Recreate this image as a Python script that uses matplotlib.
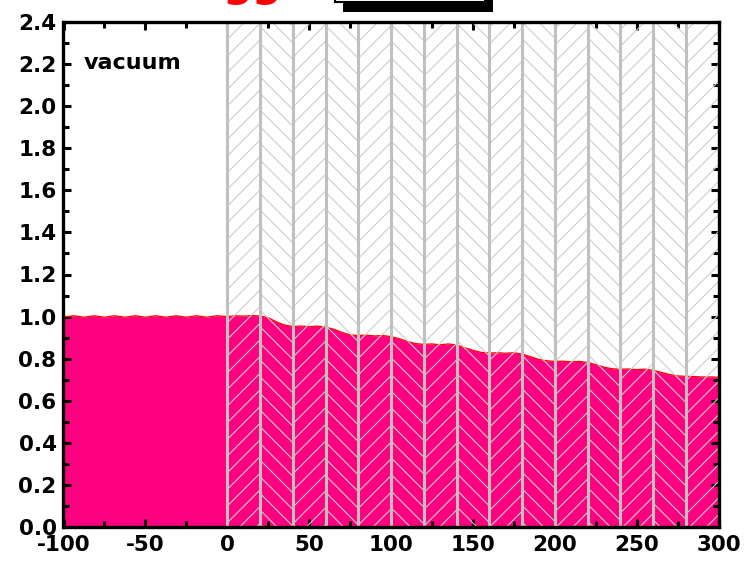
import numpy as np
import matplotlib
matplotlib.use('Agg')
import matplotlib.pyplot as plt
from matplotlib.patches import Rectangle
from matplotlib.ticker import MultipleLocator

# vacuum part (x < 0) and film part (x >= 0) of the profile
vac_x = [-100, -93.75, -87.5, -81.25, -75, -68.75, -62.5, -56.25, -50,
         -43.75, -37.5, -31.25, -25, -18.75, -12.5, -6.25, 0]
vac_y = [0.998, 1.004, 0.997, 1.004, 0.997, 1.004, 0.997, 1.004, 0.997,
         1.004, 0.997, 1.004, 0.997, 1.004, 0.997, 1.004, 1.000]

film_x = [0, 5, 10, 15, 20, 25, 30, 35, 40, 45, 50, 55, 60, 65, 70, 75,
          80, 85, 90, 95, 100, 105, 110, 115, 120, 125, 130, 135, 140, 145,
          150, 155, 160, 165, 170, 175, 180, 185, 190, 195, 200, 205, 210,
          215, 220, 225, 230, 235, 240, 245, 250, 255, 260, 265, 270, 275,
          280, 285, 290, 295, 300]
film_y = [1.003, 1.004, 1.002, 1.005, 1.003, 0.995, 0.975, 0.960, 0.953,
          0.955, 0.952, 0.955, 0.950, 0.940, 0.925, 0.913, 0.910, 0.912,
          0.908, 0.910, 0.905, 0.895, 0.882, 0.872, 0.868, 0.870, 0.866,
          0.870, 0.865, 0.852, 0.840, 0.830, 0.827, 0.828, 0.826, 0.828,
          0.822, 0.810, 0.797, 0.790, 0.787, 0.788, 0.785, 0.787, 0.782,
          0.772, 0.760, 0.752, 0.750, 0.751, 0.748, 0.750, 0.745, 0.735,
          0.725, 0.718, 0.716, 0.715, 0.713, 0.713, 0.712]

# layer boundaries of the hatched film region
layer_edges = [0, 20, 40, 60, 80, 100, 120, 140, 160, 180, 200, 220, 240,
               260, 280, 300]

plt.rcParams['font.family'] = 'DejaVu Sans'
plt.rcParams['font.weight'] = 'bold'
plt.rcParams['hatch.linewidth'] = 0.8
plt.rcParams['axes.unicode_minus'] = False

fig = plt.figure(figsize=(7.44, 5.63), dpi=100)
ax = fig.add_axes([63.5 / 744, 36 / 563, 655 / 744, 505 / 563])

x = np.concatenate([vac_x, film_x[1:]])
y = np.concatenate([vac_y, film_y[1:]])
ax.fill_between(x, 0, y, color='#ff0080', lw=0, zorder=1)
ax.plot(x, y, color='#ff0000', lw=0.9, zorder=2)

for i in range(len(layer_edges) - 1):
    h = '//' if i % 2 == 0 else '\\\\'
    ax.axvspan(layer_edges[i], layer_edges[i + 1], facecolor='none',
               edgecolor='#cccccc', hatch=h, lw=0, zorder=3)
for e in layer_edges[:-1]:
    ax.axvline(e, color='#c0c0c0', lw=2.2, zorder=4)

ax.text(-87.5, 2.205, 'vacuum', fontsize=16, fontweight='bold',
        va='center', ha='left', zorder=5)

ax.set_xlim(-100, 300)
ax.set_ylim(0, 2.4)
ax.xaxis.set_major_locator(MultipleLocator(50))
ax.xaxis.set_minor_locator(MultipleLocator(25))
ax.yaxis.set_major_locator(MultipleLocator(0.2))
ax.yaxis.set_minor_locator(MultipleLocator(0.1))
ax.yaxis.set_major_formatter(plt.FormatStrFormatter('%.1f'))
ax.tick_params(which='both', direction='in', top=True, right=True,
               width=2.2, labelsize=15.5)
ax.tick_params(which='major', length=6)
ax.tick_params(which='minor', length=4)
ax.tick_params(axis='x', pad=6)
ax.tick_params(axis='y', pad=5)
for s in ax.spines.values():
    s.set_linewidth(2.4)
    s.set_zorder(6)

# clipped title and legend box peeking in at the top
fig.text(222 / 744, 1 + 3.6 / 563, 'gg', color='#ff0000', fontsize=30,
         fontweight='bold', ha='left', va='baseline')
fig.patches.append(Rectangle((343 / 744, 1 - 11.5 / 563), 150 / 744, 0.05,
                             transform=fig.transFigure, facecolor='black',
                             edgecolor='none'))
fig.patches.append(Rectangle((335 / 744, 1 - 2 / 563), 150 / 744, 0.05,
                             transform=fig.transFigure, facecolor='white',
                             edgecolor='black', lw=1.5))

fig.savefig('out.png', dpi=100)
